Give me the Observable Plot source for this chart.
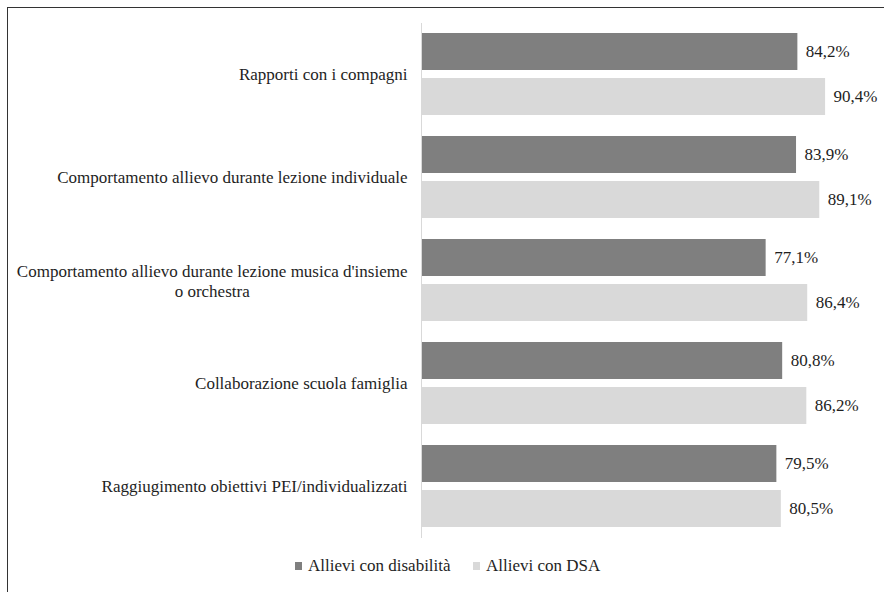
<!DOCTYPE html>
<html>
<head>
<meta charset="utf-8">
<script src="https://cdn.jsdelivr.net/npm/d3@7"></script>
<script src="https://cdn.jsdelivr.net/npm/@observablehq/plot@0.6"></script>
<style>
  html, body { margin: 0; padding: 0; background: #fff; }
  #wrap { position: relative; width: 891px; height: 592px; overflow: hidden; }
  #frame { position: absolute; left: 7px; top: 7px; width: 876px; height: 600px;
           border-left: 1.3px solid #333; border-top: 1.3px solid #333; pointer-events: none; }
  #chart { position: absolute; left: 0; top: 0; }
  #legend { position: absolute; left: 0; top: 548px; width: 891px; height: 44px; font-size: 17px; color: #1e1e1e; }
  .item { position: absolute; top: 8px; display: flex; align-items: center; white-space: nowrap; }
  .sw { width: 7px; height: 8px; margin-right: 6px; }
</style>
</head>
<body>
<div id="wrap">
  <div id="chart"></div>
  <div id="frame"></div>
  <div id="legend"></div>
</div>
<script>
// Category labels (the third one wraps on two lines)
const categories = [
  "Rapporti con i compagni",
  "Comportamento allievo durante lezione individuale",
  "Comportamento allievo durante lezione musica d'insieme\no orchestra",
  "Collaborazione scuola famiglia",
  "Raggiugimento obiettivi PEI/individualizzati"
];
const series = ["Allievi con disabilità", "Allievi con DSA"];
const disabilita = [84.2, 83.9, 77.1, 80.8, 79.5];
const dsa = [90.4, 89.1, 86.4, 86.2, 80.5];
const colors = ["#7f7f7f", "#d9d9d9"];

const rows = [];
categories.forEach((c, i) => {
  rows.push({cat: c, serie: series[0], value: disabilita[i]});
  rows.push({cat: c, serie: series[1], value: dsa[i]});
});

const fmt = v => v.toFixed(1).replace(".", ",") + "%";
const fontSize = 17;
const ink = "#1e1e1e";

// pick the first installed Times-like serif face
const ctx = document.createElement("canvas").getContext("2d");
const probe = "Comportamento allievo mmmwwwiiilll 0123";
function widthIn(f) { ctx.font = "16px " + f; return ctx.measureText(probe).width; }
const monoW = widthIn("monospace"), sansW = widthIn("sans-serif");
const candidates = ["Liberation Serif", "Tinos", "Times New Roman", "Nimbus Roman", "DejaVu Serif", "Noto Serif"];
let face = "serif";
for (const c of candidates) {
  const a = widthIn(`"${c}", monospace`), b = widthIn(`"${c}", sans-serif`);
  if (Math.abs(a - monoW) > 0.5 && Math.abs(b - sansW) > 0.5) { face = `"${c}"`; break; }
}
const font = face + ", serif";
document.getElementById("wrap").style.fontFamily = font;

// width of the longest line of the wrapped label, to centre its lines
ctx.font = fontSize + "px " + font;
const wrapped = categories.filter(c => c.includes("\n"));
const single = categories.filter(c => !c.includes("\n"));
const wrappedWidth = Math.max(...wrapped[0].split("\n").map(s => ctx.measureText(s).width));

const labelGap = 14;

const chart = Plot.plot({
  width: 891,
  height: 548,
  marginLeft: 421,
  marginRight: 23,
  marginTop: 23,
  marginBottom: 10,
  style: {fontFamily: font, fontSize: fontSize + "px", color: ink, background: "transparent"},
  x: {domain: [0, 100], axis: null},
  fy: {domain: categories, padding: 0, axis: null},
  y: {domain: series, paddingInner: 0.176, paddingOuter: 0.22, axis: null},
  color: {domain: series, range: colors},
  marks: [
    Plot.barX(rows, {fy: "cat", y: "serie", x: "value", fill: "serie"}),
    Plot.ruleX([0], {stroke: "#d9d9d9", strokeWidth: 1}),
    Plot.text(rows, {fy: "cat", y: "serie", x: "value", text: d => fmt(d.value),
      dx: 8, textAnchor: "start", fill: ink, fontSize, fontFamily: font}),
    Plot.text(single, {fy: d => d, text: d => d, frameAnchor: "left",
      dx: -labelGap, textAnchor: "end", fill: ink, fontSize, fontFamily: font}),
    Plot.text(wrapped, {fy: d => d, text: d => d, frameAnchor: "left",
      dx: -labelGap - wrappedWidth / 2, textAnchor: "middle", lineHeight: 1.15,
      fill: ink, fontSize, fontFamily: font})
  ]
});
document.getElementById("chart").appendChild(chart);

// legend below the chart
const legend = document.getElementById("legend");
const lefts = [295, 473];
series.forEach((s, i) => {
  const item = document.createElement("div");
  item.className = "item";
  item.style.left = lefts[i] + "px";
  const sw = document.createElement("span");
  sw.className = "sw";
  sw.style.background = colors[i];
  const t = document.createElement("span");
  t.textContent = s;
  item.appendChild(sw);
  item.appendChild(t);
  legend.appendChild(item);
});
</script>
</body>
</html>
